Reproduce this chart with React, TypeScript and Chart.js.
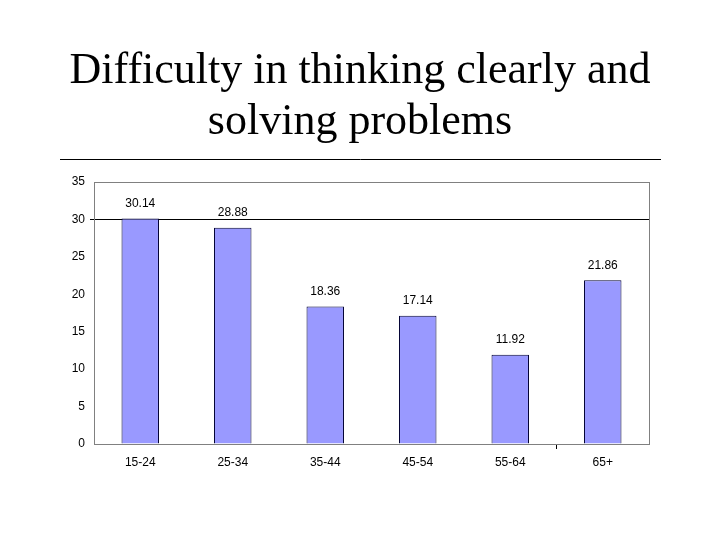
import { useEffect, useRef } from 'react';
import { Chart, registerables } from 'chart.js';

Chart.register(...registerables);

const titleLines = ['Difficulty in thinking clearly and', 'solving problems'];
const ageGroups = ['15-24', '25-34', '35-44', '45-54', '55-64', '65+'];
const percentages = [30.14, 28.88, 18.36, 17.14, 11.92, 21.86];

const slideDecor = {
  id: 'slideDecor',
  beforeDraw(chart: Chart) {
    const { ctx } = chart;
    ctx.save();
    ctx.fillStyle = '#fff';
    ctx.fillRect(0, 0, chart.width, chart.height);
    ctx.fillStyle = '#000';
    ctx.font = '44px "Liberation Serif", "Times New Roman", serif';
    ctx.textAlign = 'center';
    ctx.textBaseline = 'alphabetic';
    ctx.fillText(titleLines[0], 360, 83);
    ctx.fillText(titleLines[1], 360, 134);
    ctx.strokeStyle = '#000';
    ctx.lineWidth = 1;
    ctx.beginPath();
    ctx.moveTo(60, 159.5);
    ctx.lineTo(661, 159.5);
    ctx.stroke();
    ctx.restore();
  },
  afterDraw(chart: Chart) {
    const { ctx, chartArea } = chart;
    ctx.save();
    ctx.strokeStyle = '#808080';
    ctx.lineWidth = 1;
    ctx.strokeRect(chartArea.left + 0.5, chartArea.top + 0.5, chartArea.right - chartArea.left, chartArea.bottom - chartArea.top);
    ctx.fillStyle = '#000';
    ctx.font = '12px "Liberation Sans", Arial, sans-serif';
    ctx.textAlign = 'center';
    ctx.textBaseline = 'middle';
    chart.getDatasetMeta(0).data.forEach((bar, i) => {
      ctx.fillText(percentages[i].toFixed(2), bar.x, bar.y - 15);
    });
    ctx.restore();
  }
};

export default function App() {
  const canvas = useRef<HTMLCanvasElement | null>(null);

  useEffect(() => {
    const node = canvas.current;
    if (!node) {
      return;
    }

    const chart = new Chart(node, {
      type: 'bar',
      data: {
        labels: ageGroups,
        datasets: [
          {
            data: percentages,
            backgroundColor: '#9999ff',
            borderColor: '#000033',
            borderWidth: 1,
            barPercentage: 0.405,
            categoryPercentage: 1
          }
        ]
      },
      options: {
        responsive: true,
        maintainAspectRatio: false,
        animation: false,
        layout: { padding: { left: 40, right: 71, top: 182, bottom: 56 } },
        plugins: {
          legend: { display: false },
          tooltip: { enabled: false }
        },
        scales: {
          x: {
            afterFit: (scale) => {
              scale.height = 40;
            },
            border: { color: '#808080' },
            grid: {
              offset: true,
              drawOnChartArea: false,
              tickLength: 5,
              color: (ctx) => (ctx.index === 5 ? '#000' : 'transparent')
            },
            ticks: {
              color: '#000',
              padding: 6,
              font: { family: '"Liberation Sans", Arial, sans-serif', size: 12 }
            }
          },
          y: {
            min: 0,
            max: 35,
            afterFit: (scale) => {
              scale.width = 54;
            },
            border: { color: '#808080' },
            grid: {
              tickLength: 4,
              color: (ctx) => (ctx.tick && ctx.tick.value === 30 ? '#000' : 'transparent')
            },
            ticks: {
              stepSize: 5,
              color: '#000',
              padding: 5,
              font: { family: '"Liberation Sans", Arial, sans-serif', size: 12 }
            }
          }
        }
      },
      plugins: [slideDecor]
    });

    return () => {
      chart.destroy();
    };
  }, []);

  return (
    <div style={{ position: 'fixed', left: 0, top: 0, width: 720, height: 540, background: '#fff' }}>
      <canvas ref={canvas} role="img" aria-label="Difficulty in thinking clearly and solving problems bar chart" />
    </div>
  );
}
